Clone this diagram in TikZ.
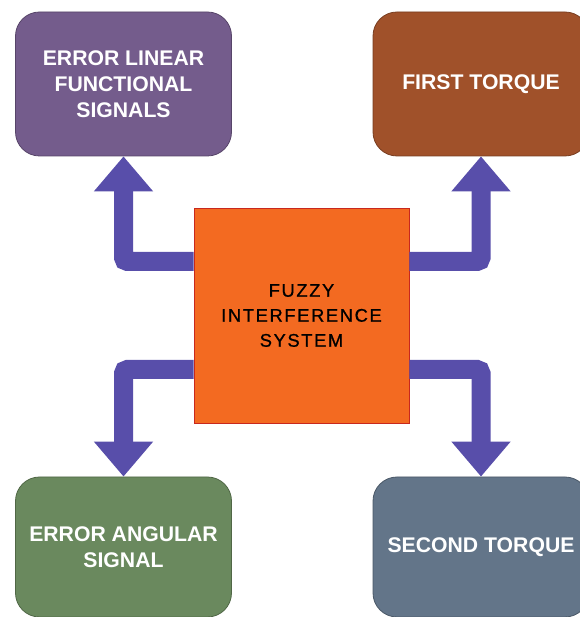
\documentclass[tikz,border=0pt]{standalone}
\usepackage{fontspec}
\setmainfont{Liberation Sans}
\usetikzlibrary{arrows.meta}

\definecolor{fisorange}{RGB}{243,106,33}
\definecolor{fisedge}{RGB}{200,40,30}
\definecolor{linpurple}{RGB}{116,92,140}
\definecolor{torqbrown}{RGB}{160,81,42}
\definecolor{anggreen}{RGB}{106,137,94}
\definecolor{torqslate}{RGB}{99,117,137}
\definecolor{flowblue}{RGB}{88,78,170}

\begin{document}
\begin{tikzpicture}[x=1pt, y=1pt,
    box/.style={rounded corners=24pt, line width=0.8pt, text=white, align=center,
        font=\bfseries\fontsize{21.2}{26}\selectfont, minimum width=216pt},
    core/.style={fill=fisorange, draw=fisedge, line width=0.6pt, minimum size=215pt, align=center,
        font=\addfontfeatures{LetterSpace=9,FakeBold=0.8}\fontsize{18.3}{25}\selectfont},
    flow/.style={line width=19pt, draw=flowblue, rounded corners=4pt,
        -{Triangle[width=57pt, length=35pt]}}]

    \useasboundingbox (0,0) rectangle (579,617);

    \node[core] (fis) at (301.5,301.5) {FUZZY\\INTERFERENCE\\SYSTEM};

    \node[box, fill=linpurple, draw=linpurple!75!black, minimum height=144pt] (elf) at (123.5,533) {ERROR LINEAR\\FUNCTIONAL\\SIGNALS};
    \node[box, fill=torqbrown, draw=torqbrown!75!black, minimum height=144pt] (ft) at (481,533) {FIRST TORQUE};
    \node[box, fill=anggreen, draw=anggreen!75!black, minimum height=140pt] (eas) at (123.5,70) {ERROR ANGULAR\\SIGNAL};
    \node[box, fill=torqslate, draw=torqslate!75!black, minimum height=140pt] (st) at (481,70) {SECOND TORQUE};

    % four outputs of the inference block
    \draw[flow] ([yshift=54pt]fis.west) -| (elf);
    \draw[flow] ([yshift=54pt]fis.east) -| (ft);
    \draw[flow] ([yshift=-54pt]fis.west) -| (eas);
    \draw[flow] ([yshift=-54pt]fis.east) -| (st);
\end{tikzpicture}
\end{document}
